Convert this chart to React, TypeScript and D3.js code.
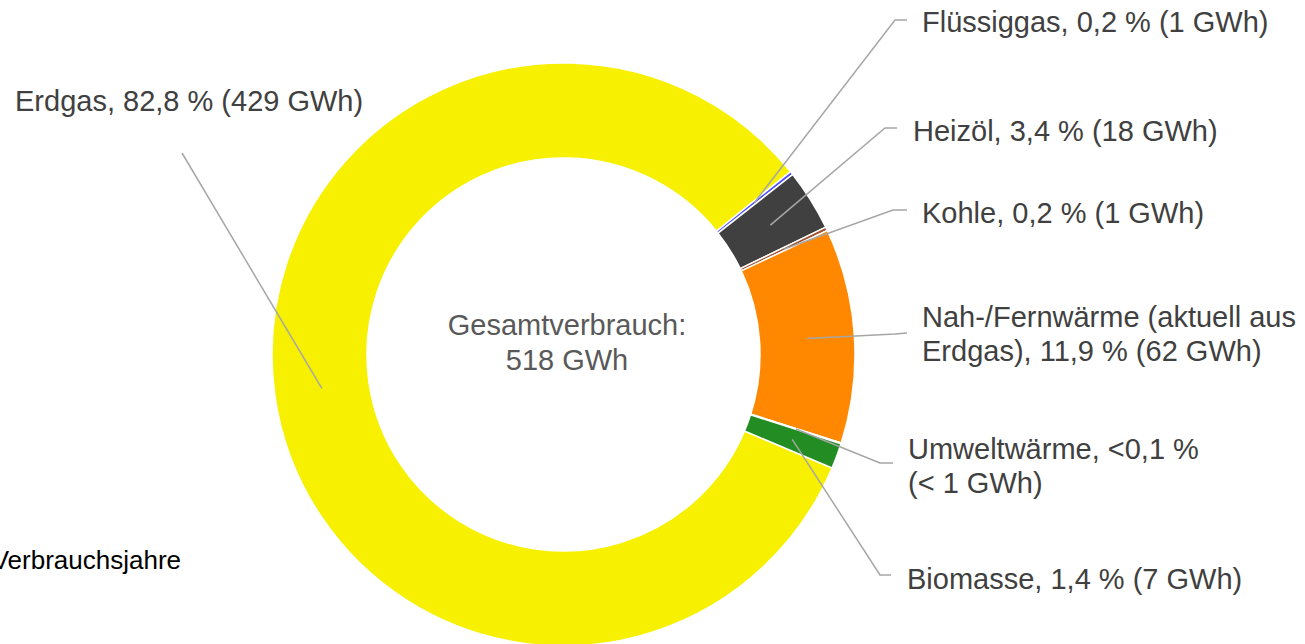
import React from 'react'
import * as d3 from 'd3'

// energy carriers, shares in percent
const carriers = ['Erdgas', 'Flüssiggas', 'Heizöl', 'Kohle', 'Nah-/Fernwärme', 'Umweltwärme', 'Biomasse']
const shares = [82.8, 0.2, 3.4, 0.2, 11.9, 0.05, 1.4]
const labelLines = [
  ['Erdgas, 82,8 % (429 GWh)'],
  ['Flüssiggas, 0,2 % (1 GWh)'],
  ['Heizöl, 3,4 % (18 GWh)'],
  ['Kohle, 0,2 % (1 GWh)'],
  ['Nah-/Fernwärme (aktuell aus', 'Erdgas), 11,9 % (62 GWh)'],
  ['Umweltwärme, <0,1 %', '(< 1 GWh)'],
  ['Biomasse, 1,4 % (7 GWh)'],
]
const colors = ['#F7F000', '#4F4FFF', '#404040', '#A0522D', '#FF8800', '#9DC3E6', '#238C23']
const centerLines = ['Gesamtverbrauch:', '518 GWh']
const footnote = 'Verbrauchsjahre'

// label layout: elbow point, end of leader, text x, first baseline
const labelLayout = [
  { elbow: [182, 153], end: null, tx: 15, ty: 111 },
  { elbow: [895, 20], end: [907, 20], tx: 922, ty: 32 },
  { elbow: [885, 128], end: [897, 128], tx: 913, ty: 141 },
  { elbow: [893, 210], end: [907, 210], tx: 922, ty: 223 },
  { elbow: [895, 334], end: [907, 333], tx: 922, ty: 327 },
  { elbow: [880, 463], end: [893, 463], tx: 908, ty: 459 },
  { elbow: [880, 575], end: [891, 575], tx: 907, ty: 589 },
]

const W = 1305
const H = 644
const cx = 563.5
const cy = 354.5
const outerR = 291.5
const innerR = 196.5
const start = (112.9 * Math.PI) / 180
const font = '"Liberation Sans", Arial, sans-serif'

export default function App() {
  const pie = d3.pie<number>().sort(null).value(d => d)
    .startAngle(start).endAngle(start + 2 * Math.PI)
  const arcs = pie(shares)
  const arc = d3.arc<d3.PieArcDatum<number>>().innerRadius(innerR).outerRadius(outerR)

  return (
    <svg width={W} height={H} style={{ position: 'absolute', left: 0, top: 0, background: '#fff' }}
      fontFamily={font}>
      <g transform={`translate(${cx},${cy})`}>
        {arcs.map((a, i) => (
          <path key={carriers[i]} d={arc(a) || ''} fill={colors[i]} stroke="#fff" strokeWidth={1.5} />
        ))}
      </g>
      {arcs.map((a, i) => {
        const [x, y] = arc.centroid(a)
        const l = labelLayout[i]
        const pts = [[cx + x, cy + y], l.elbow]
        if (l.end) pts.push(l.end)
        return (
          <path key={'l' + i} d={d3.line()(pts as [number, number][]) || ''}
            fill="none" stroke="#A6A6A6" strokeWidth={1.5} />
        )
      })}
      {labelLines.map((lines, i) => (
        <text key={'t' + i} x={labelLayout[i].tx} y={labelLayout[i].ty} fontSize={29} fill="#404040">
          {lines.map((s, j) => (
            <tspan key={j} x={labelLayout[i].tx} dy={j === 0 ? 0 : 34}>{s}</tspan>
          ))}
        </text>
      ))}
      <text x={567} y={335} fontSize={29} fill="#595959" textAnchor="middle">
        {centerLines.map((s, j) => (
          <tspan key={j} x={567} dy={j === 0 ? 0 : 35}>{s}</tspan>
        ))}
      </text>
      <text x={181} y={569} fontSize={26} fill="#000" textAnchor="end">{footnote}</text>
    </svg>
  )
}
